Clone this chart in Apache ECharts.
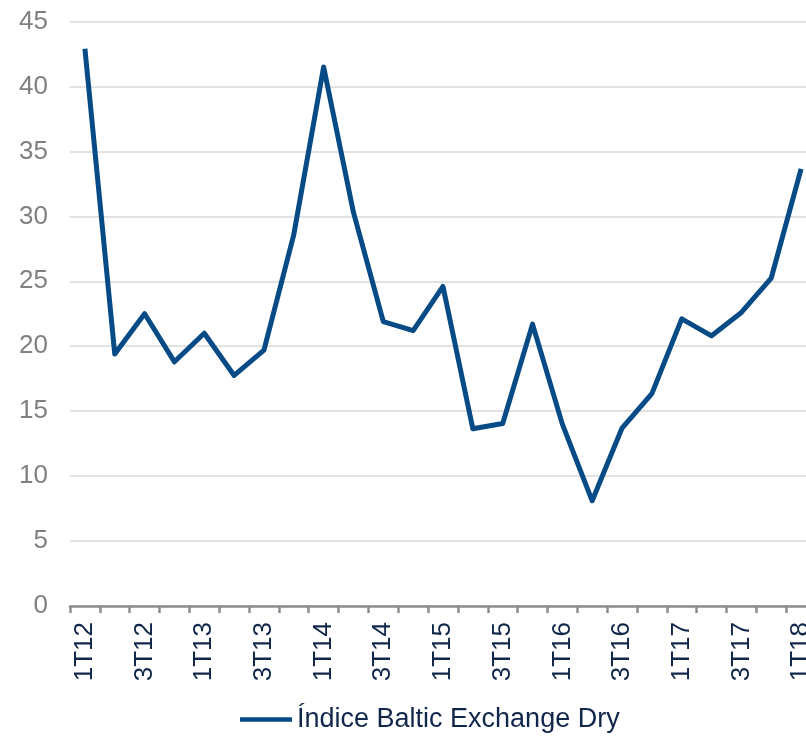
<!DOCTYPE html>
<html>
<head>
<meta charset="utf-8">
<script src="https://cdn.jsdelivr.net/npm/echarts@6/dist/echarts.min.js"></script>
<style>html,body{margin:0;padding:0;background:#fff;}#c{width:806px;height:739px;}</style>
</head>
<body>
<div id="c"></div>
<script>
var categories = ['1T12','2T12','3T12','4T12','1T13','2T13','3T13','4T13','1T14','2T14','3T14','4T14','1T15','2T15','3T15','4T15','1T16','2T16','3T16','4T16','1T17','2T17','3T17','4T17','1T18'];
var bdiValues = [42.9,19.4,22.5,18.8,21.0,17.75,19.7,28.6,41.5,30.3,21.9,21.2,24.6,13.65,14.05,21.7,14.0,8.1,13.7,16.35,22.1,20.8,22.6,25.25,33.65];
var seriesName = 'Índice Baltic Exchange Dry';
var yTicks = {min: 0, max: 45, interval: 5};

var chart = echarts.init(document.getElementById('c'), null, {renderer: 'canvas'});
chart.setOption({
  animation: false,
  backgroundColor: '#ffffff',
  textStyle: {fontFamily: 'Liberation Sans, Arial, sans-serif'},
  grid: {left: 70, right: -10, top: 21.5, bottom: 133, containLabel: false, outerBoundsMode: 'none'},
  legend: {
    data: [seriesName],
    left: 240, top: 706, padding: 0,
    itemWidth: 52, itemHeight: 4.5, itemGap: 6,
    icon: 'rect',
    textStyle: {fontSize: 27, color: '#10264a', fontFamily: 'Liberation Sans, Arial, sans-serif'}
  },
  xAxis: {
    type: 'category',
    data: categories,
    boundaryGap: true,
    axisLine: {lineStyle: {color: '#8c8c8c', width: 2.5}},
    axisTick: {show: true, length: 7, interval: 0, lineStyle: {color: '#8c8c8c', width: 2.5}},
    axisLabel: {interval: 1, rotate: 90, margin: 16, fontSize: 26, color: '#10264a', fontFamily: 'Liberation Sans, Arial, sans-serif'},
    splitLine: {show: false}
  },
  yAxis: {
    type: 'value',
    min: yTicks.min, max: yTicks.max, interval: yTicks.interval,
    axisLine: {show: false},
    axisTick: {show: false},
    axisLabel: {margin: 22, fontSize: 26, color: '#808080', fontFamily: 'Liberation Sans, Arial, sans-serif'},
    splitLine: {lineStyle: {color: '#d9d9d9', width: 1.5}}
  },
  series: [{
    name: seriesName,
    type: 'line',
    data: bdiValues,
    symbol: 'none',
    lineStyle: {color: '#064a86', width: 5, join: 'round'},
    itemStyle: {color: '#064a86'}
  }]
});
</script>
</body>
</html>
